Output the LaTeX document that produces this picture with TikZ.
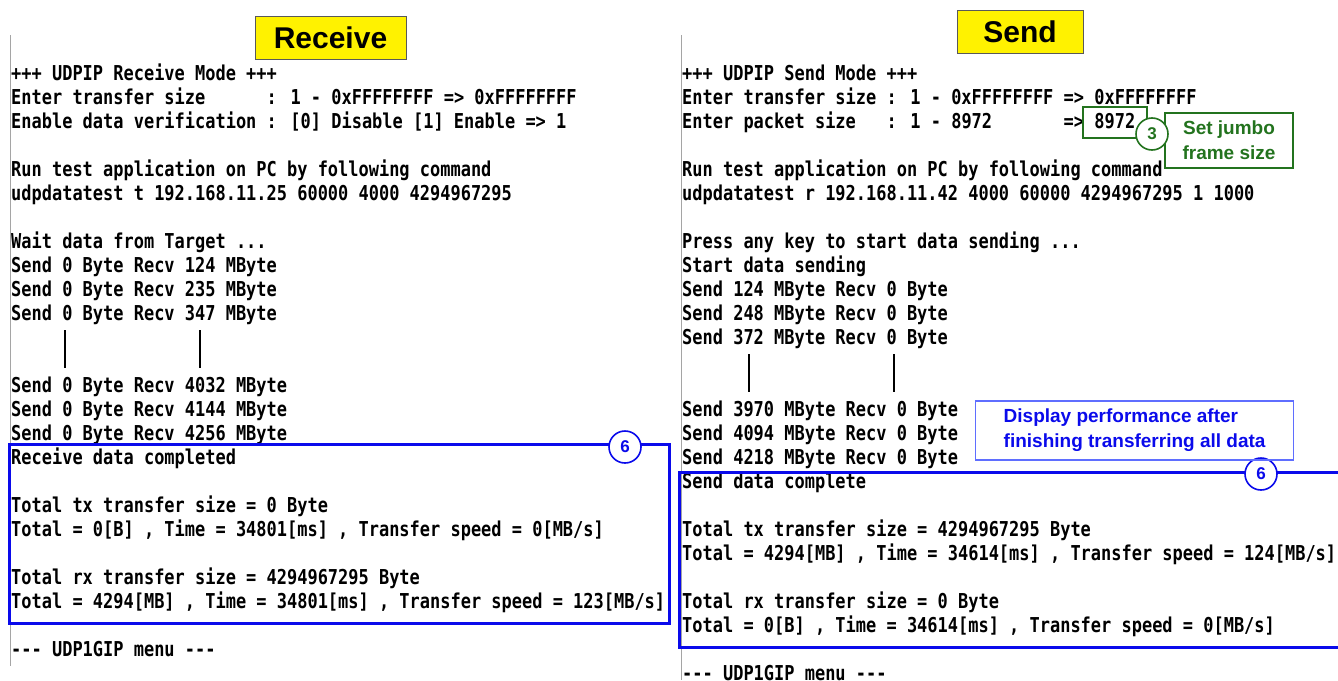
\documentclass[tikz,border=0pt]{standalone}
\usepackage{fontspec}
\setmainfont{Liberation Sans}
\newfontfamily\termfont[FakeStretch=0.828]{DejaVu Sans Mono}
\usetikzlibrary{positioning}
\definecolor{markblue}{RGB}{10,10,235}
\definecolor{noteblue}{RGB}{95,110,255}
\definecolor{markgreen}{RGB}{35,115,30}
\definecolor{rulegray}{RGB}{165,165,165}
\newcommand{\termdash}{\mbox{-}\mbox{-}\mbox{-}}
\tikzset{termline/.style={anchor=base west,inner sep=0pt,font=\termfont\bfseries\fontsize{20.5}{24}\selectfont}}
\tikzset{modebox/.style={draw=black!65,fill=yellow,line width=1pt,inner sep=0pt,font=\bfseries\fontsize{30}{30}\selectfont}}
\tikzset{markframe/.style={draw=markblue,line width=3pt}}
\tikzset{badge/.style={circle,draw,fill=white,line width=1.6pt,inner sep=0pt,minimum size=32pt,font=\bfseries\fontsize{17}{17}\selectfont}}
\tikzset{note/.style={draw,line width=1.2pt,inner sep=0pt,font=\bfseries\fontsize{19}{25}\selectfont}}

\begin{document}
\begin{tikzpicture}[x=1pt,y=-1pt]
  \useasboundingbox (0,0) rectangle (1338,680);
  \node[modebox,minimum width=151pt,minimum height=43pt] (recvtitle) at (330.5,37.5) {Receive};
  \node[modebox,minimum width=126pt,minimum height=43pt] (sendtitle) at (1020,31.5) {Send};
  \draw[rulegray,line width=1pt] (10,35) -- (10,666);
  \draw[rulegray,line width=1pt] (681,35) -- (681,680);
        \foreach \n/\t in {0/{+++ UDPIP Receive Mode +++},
            1/{Enter transfer size~~~~~~: 1 - 0xFFFFFFFF => 0xFFFFFFFF},
            2/{Enable data verification : [0] Disable [1] Enable => 1},
            4/{Run test application on PC by following command},
            5/{udpdatatest t 192.168.11.25 60000 4000 4294967295},
            7/{Wait data from Target ...},
            8/{Send 0 Byte Recv 124 MByte},
            9/{Send 0 Byte Recv 235 MByte},
            10/{Send 0 Byte Recv 347 MByte},
            13/{Send 0 Byte Recv 4032 MByte},
            14/{Send 0 Byte Recv 4144 MByte},
            15/{Send 0 Byte Recv 4256 MByte},
            16/{Receive data completed},
            18/{Total tx transfer size = 0 Byte},
            19/{Total = 0[B] , Time = 34801[ms] , Transfer speed = 0[MB/s]},
            21/{Total rx transfer size = 4294967295 Byte},
            22/{Total = 4294[MB] , Time = 34801[ms] , Transfer speed = 123[MB/s]},
            24/{\termdash{} UDP1GIP menu \termdash}}
          \node[termline] (rx\n) at (11,{80+24*\n}) {\t};
        \foreach \n/\t in {0/{+++ UDPIP Send Mode +++},
            1/{Enter transfer size : 1 - 0xFFFFFFFF => 0xFFFFFFFF},
            2/{Enter packet size~~~: 1 - 8972~~~~~~~=> 8972},
            4/{Run test application on PC by following command},
            5/{udpdatatest r 192.168.11.42 4000 60000 4294967295 1 1000},
            7/{Press any key to start data sending ...},
            8/{Start data sending},
            9/{Send 124 MByte Recv 0 Byte},
            10/{Send 248 MByte Recv 0 Byte},
            11/{Send 372 MByte Recv 0 Byte},
            14/{Send 3970 MByte Recv 0 Byte},
            15/{Send 4094 MByte Recv 0 Byte},
            16/{Send 4218 MByte Recv 0 Byte},
            17/{Send data complete},
            19/{Total tx transfer size = 4294967295 Byte},
            20/{Total = 4294[MB] , Time = 34614[ms] , Transfer speed = 124[MB/s]},
            22/{Total rx transfer size = 0 Byte},
            23/{Total = 0[B] , Time = 34614[ms] , Transfer speed = 0[MB/s]},
            25/{\termdash{} UDP1GIP menu \termdash}}
          \node[termline] (tx\n) at (682,{80+24*\n}) {\t};
        \foreach \x in {65,200}
          \draw[line width=1.8pt] (\x,330) -- (\x,368);
        \foreach \x in {749,894}
          \draw[line width=1.8pt] (\x,354) -- (\x,392);
  \draw[markframe] (9,444) rectangle (669,623);
  \draw[markframe] (1340,472) -- (679,472) -- (679,647) -- (1340,647);
  \node[badge,draw=markblue,text=markblue] (rxdone) at (625,447) {6};
  \node[badge,draw=markblue,text=markblue] (txdone) at (1261,474) {6};
  \node[note,draw=noteblue,text=markblue,anchor=west,minimum width=318pt,minimum height=59pt,align=left] (perf) at (975,430.5) {Display performance after\\finishing transferring all data};
  \draw[markgreen,line width=2pt] (1083,107) rectangle (1147,138);
  \node[note,draw=markgreen,text=markgreen,minimum width=128pt,minimum height=55pt,align=center] (jumbo) at (1229,140.5) {Set jumbo\\frame size};
  \node[badge,draw=markgreen,text=markgreen] (pkt) at (1152,134) {3};
\end{tikzpicture}
\end{document}
